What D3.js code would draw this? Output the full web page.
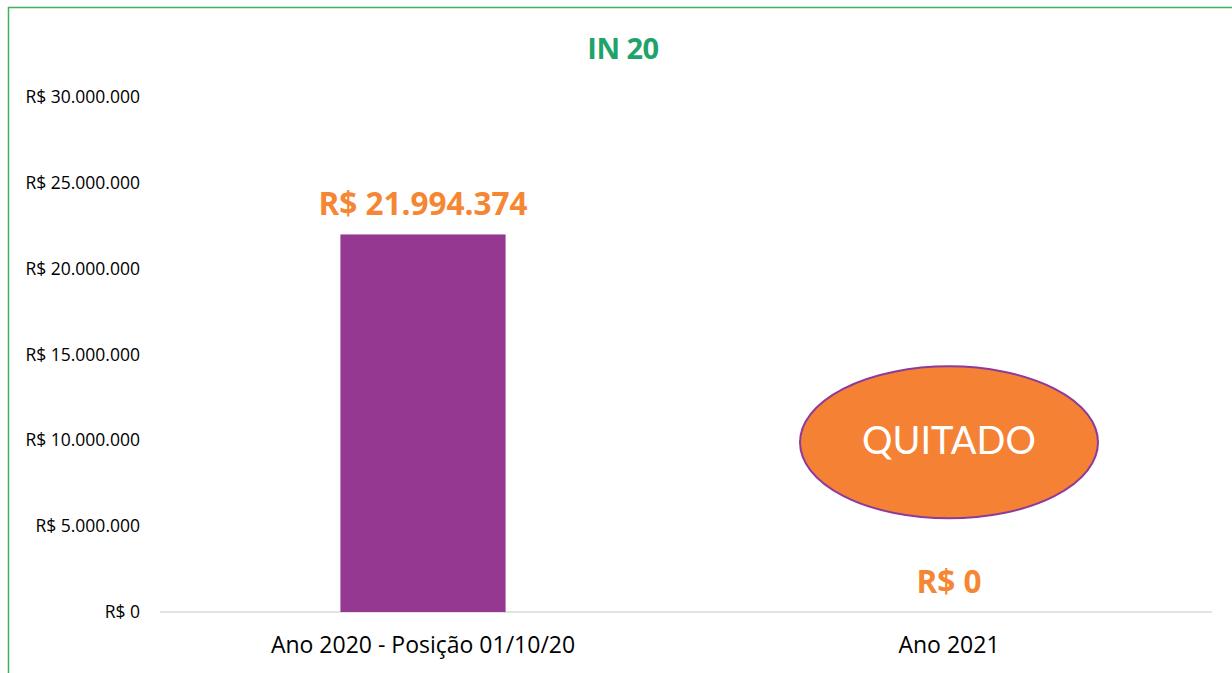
<!DOCTYPE html>
<html>
<head>
<meta charset="utf-8">
<script src="https://cdn.jsdelivr.net/npm/d3@7"></script>
<style>
  body { margin: 0; background: #fff; }
  svg text { font-family: "Open Sans", Lato, sans-serif; }
</style>
</head>
<body>
<div id="chart"></div>
<script>
// Data
const categories = ['Ano 2020 - Posição 01/10/20', 'Ano 2021'];
const values = [21994374, 0];
const valueLabels = ['R$ 21.994.374', 'R$ 0'];
const yTicks = [0, 5000000, 10000000, 15000000, 20000000, 25000000, 30000000];
const tickLabels = ['R$ 0', 'R$ 5.000.000', 'R$ 10.000.000', 'R$ 15.000.000', 'R$ 20.000.000', 'R$ 25.000.000', 'R$ 30.000.000'];
const title = 'IN 20';
const badgeText = 'QUITADO';
const badgeValue = 10000000; // vertical position of the badge, in data units

const W = 1232, H = 673;
const margin = { top: 97, right: 20, bottom: 61, left: 160 };

const svg = d3.select('#chart')
    .append('svg')
    .attr('width', W)
    .attr('height', H);

// Outer green frame (runs off the right and bottom edges)
svg.append('rect')
    .attr('x', 8.5).attr('y', 7.5)
    .attr('width', W + 20).attr('height', H + 20)
    .attr('fill', 'none')
    .attr('stroke', '#3cb55e')
    .attr('stroke-width', 1.5);

const x = d3.scaleBand()
    .domain(categories)
    .range([margin.left, W - margin.right])
    .paddingInner(0.686)
    .paddingOuter(0.343);

const y = d3.scaleLinear()
    .domain([0, 30000000])
    .range([H - margin.bottom, margin.top]);

// Title
svg.append('text')
    .attr('x', 623).attr('y', 59)
    .attr('text-anchor', 'middle')
    .style('font-size', '29px')
    .style('font-weight', 'bold')
    .style('letter-spacing', '-0.5px')
    .style('fill', '#1fa36a')
    .text(title);

// Y axis labels only
const yAxis = d3.axisLeft(y)
    .tickValues(yTicks)
    .tickFormat((d, i) => tickLabels[i])
    .tickSize(0)
    .tickPadding(20);

const gy = svg.append('g')
    .attr('transform', `translate(${margin.left},0)`)
    .call(yAxis);
gy.select('.domain').remove();
gy.selectAll('text')
    .style('font-size', '17.5px')
    .style('fill', '#000');

// X axis baseline + category labels
const xAxis = d3.axisBottom(x).tickSize(0).tickPadding(25);
const gx = svg.append('g')
    .attr('transform', `translate(0,${y(0)})`)
    .call(xAxis);
gx.select('.domain')
    .attr('stroke', '#d9d9d9')
    .attr('stroke-width', 1.5)
    .attr('d', `M${margin.left},0H${W - margin.right}`);
gx.selectAll('text')
    .style('font-size', '23px')
    .style('fill', '#000');

// Bars
svg.selectAll('rect.bar')
    .data(values)
    .enter()
    .append('rect')
    .attr('class', 'bar')
    .attr('x', (d, i) => x(categories[i]))
    .attr('y', d => y(d))
    .attr('width', x.bandwidth())
    .attr('height', d => y(0) - y(d))
    .attr('fill', '#953892');

// Value labels
svg.selectAll('text.val')
    .data(values)
    .enter()
    .append('text')
    .attr('class', 'val')
    .attr('x', (d, i) => x(categories[i]) + x.bandwidth() / 2)
    .attr('y', d => y(d) - 19)
    .attr('text-anchor', 'middle')
    .style('font-size', '31.5px')
    .style('font-weight', 'bold')
    .style('fill', '#f58634')
    .text((d, i) => valueLabels[i]);

// QUITADO badge over the second category
const cx = x(categories[1]) + x.bandwidth() / 2;
const cy = y(badgeValue) + 2;
svg.append('ellipse')
    .attr('cx', cx).attr('cy', cy)
    .attr('rx', 149).attr('ry', 76)
    .attr('fill', '#f58234')
    .attr('stroke', '#8e3a9b')
    .attr('stroke-width', 2);
svg.append('text')
    .attr('x', cx).attr('y', cy + 2)
    .attr('text-anchor', 'middle')
    .attr('dominant-baseline', 'middle')
    .style('font-family', 'Lato, sans-serif')
    .style('font-size', '38px')
    .style('fill', '#fff')
    .text(badgeText);
</script>
</body>
</html>
